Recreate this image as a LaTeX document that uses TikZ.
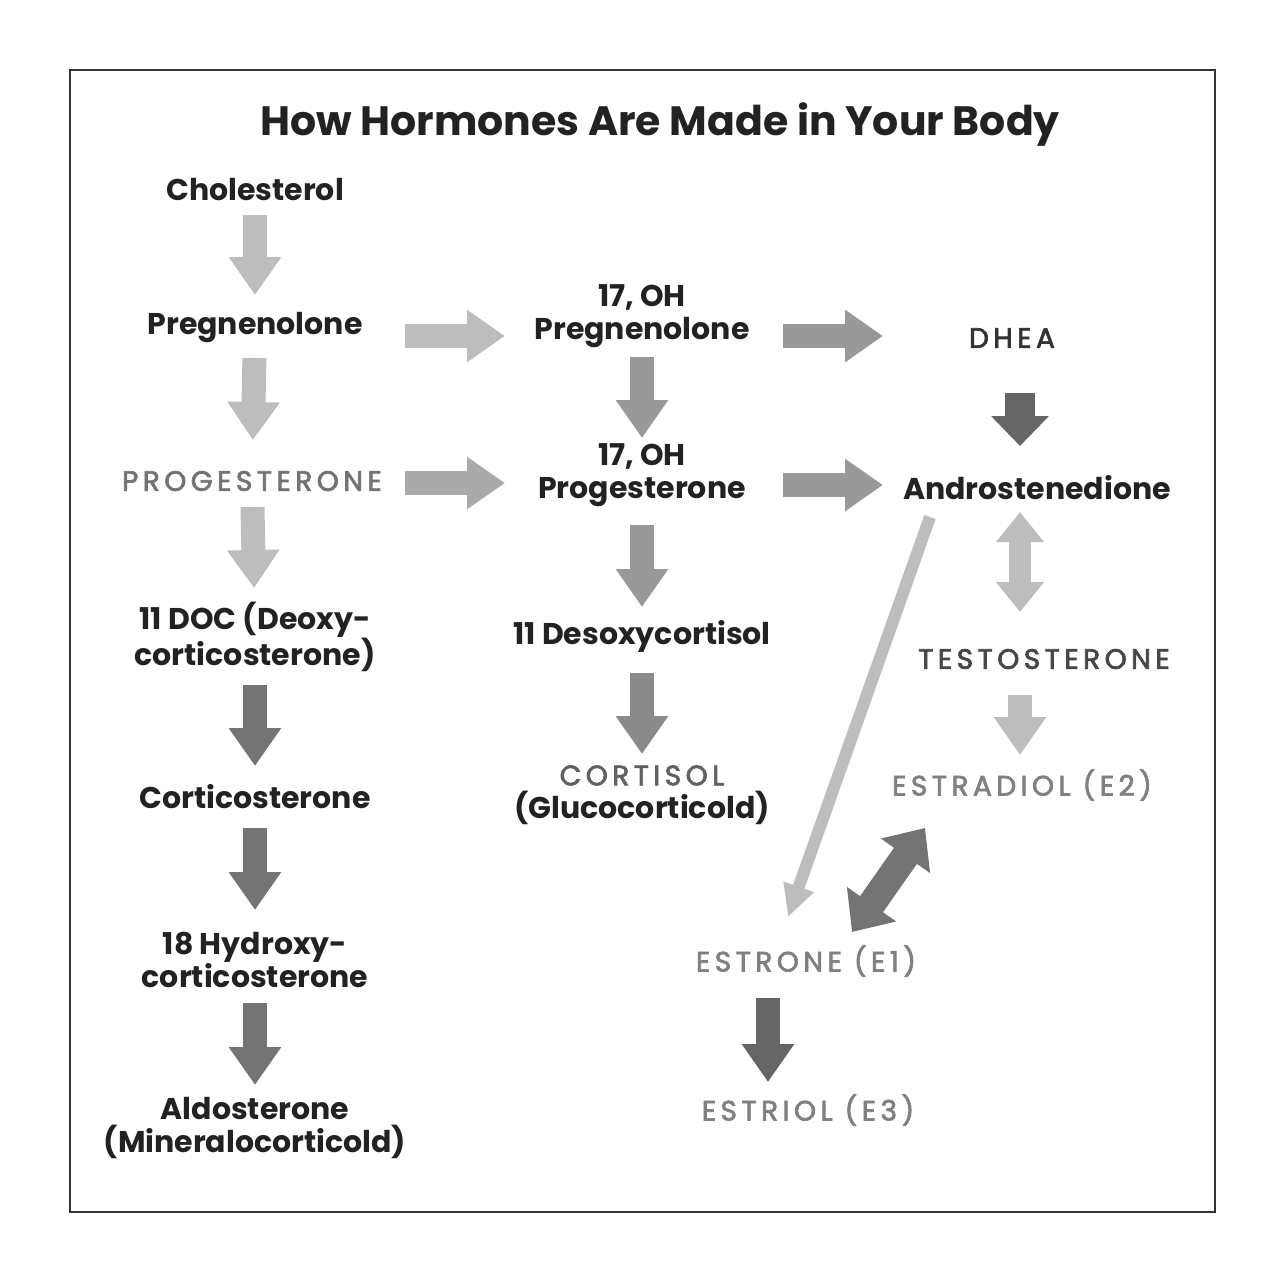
\documentclass[tikz,border=0pt]{standalone}
\usepackage{fontspec}
\setmainfont{Poppins}
\newfontfamily\capsfont[LetterSpace=16,FakeBold=2.5]{Poppins}
\usetikzlibrary{arrows.meta,calc}
\definecolor{txt}{HTML}{222222}
\definecolor{frame}{HTML}{333333}
\definecolor{aL}{HTML}{BDBDBD}
\definecolor{aM}{HTML}{999999}
\definecolor{aD}{HTML}{747474}
\definecolor{aDD}{HTML}{656565}
\begin{document}
\begin{tikzpicture}[x=1pt,y=-1pt,
  lbl/.style={font=\bfseries\fontsize{30}{33}\selectfont, text=txt, align=center, inner sep=0pt},
  caplbl/.style={font=\capsfont\fontsize{28}{33}\selectfont, align=center, inner sep=0pt},
  blk/.style={line width=24pt, -{Triangle[width=50pt,length=38pt]}},
  blkd/.style={line width=22pt, {Triangle[width=46pt,length=30pt]}-{Triangle[width=46pt,length=30pt]}},
]
\path[use as bounding box, fill=white] (0,0) rectangle (1283,1283);
\draw[frame, line width=2.5pt] (70,70) rectangle (1215,1212);
\node[font=\bfseries\fontsize{41}{44}\selectfont, text=txt, inner sep=0pt] (title) at (660,125) {How Hormones Are Made in Your Body};

% left column
\node[lbl] (chol) at (255,190) {Cholesterol};
\node[lbl] (preg) at (255,328) {Pregnenolone};
\node[caplbl, text=black!55] (prog) at (252,481) {PROGESTERONE};
\node[lbl] (doc) at (255,637) {11 DOC (Deoxy-\\corticosterone)};
\node[lbl] (cortico) at (255,797) {Corticosterone};
\node[lbl] (hydroxy) at (255,960) {18 Hydroxy-\\corticosterone};
\node[lbl] (aldo) at (255,1128) {Aldosterone\\(Mineralocorticold)};

% middle column
\node[lbl] (ohpreg) at (642,316) {17, OH\\Pregnenolone};
\node[lbl] (ohprog) at (642,475) {17, OH\\Progesterone};
\node[lbl] (deso) at (642,636) {11 Desoxycortisol};
\node[lbl] (cortisol) at (642,795) {{\capsfont\mdseries\fontsize{28}{33}\selectfont\color{black!62}CORTISOL}\\(Glucocorticold)};

% right column
\node[caplbl, text=black!80] (dhea) at (1012,338) {DHEA};
\node[lbl] (andro) at (1037,488) {Androstenedione};
\node[caplbl, text=black!72] (testo) at (1044,659) {TESTOSTERONE};
\node[caplbl, text=black!50] (estradiol) at (1022,785) {ESTRADIOL (E2)};
\node[caplbl, text=black!50] (estrone) at (806,961) {ESTRONE (E1)};
\node[caplbl, text=black!50] (estriol) at (808,1110) {ESTRIOL (E3)};

% left vertical arrows
\draw[blk, aL, shorten <=25pt, shorten >=33pt] (chol.center) -- (preg.center);
\draw[blk, aL, shorten <=30pt, shorten >=41pt] (preg.center) -- (prog.center);
\draw[blk, aL, shorten <=26pt, shorten >=49pt] (prog.center) -- (doc.center);
\draw[blk, aD, shorten <=48pt, shorten >=31pt] (doc.center) -- (cortico.center);
\draw[blk, aD, shorten <=31pt, shorten >=50pt] (cortico.center) -- (hydroxy.center);
\draw[blk, aD, shorten <=43pt, shorten >=43pt] (hydroxy.center) -- (aldo.center);

% middle vertical arrows
\draw[blk, aM, shorten <=41pt, shorten >=37pt] (ohpreg.center) -- (ohprog.center);
\draw[blk, aM, shorten <=50pt, shorten >=29pt] (ohprog.center) -- (deso.center);
\draw[blk, aM!90!black, shorten <=37pt, shorten >=41pt] (deso.center) -- (cortisol.center);

% horizontal arrows
\draw[blk, aL, shorten <=150pt, shorten >=137pt] ($(preg)+(0,8)$) -- ($(ohpreg)+(0,20)$);
\draw[blk, aM, shorten <=141pt, shorten >=129pt] ($(ohpreg)+(0,20)$) -- ($(dhea)+(0,-2)$);
\draw[blk, aL!90!black, shorten <=153pt, shorten >=137pt] ($(prog)+(0,2)$) -- ($(ohprog)+(0,8)$);
\draw[blk, aM, shorten <=141pt, shorten >=154pt] ($(ohprog)+(0,10)$) -- ($(andro)+(0,-3)$);

% right arrows
\draw[line width=30pt, -{Triangle[width=56pt,length=30pt]}, aDD, shorten <=55pt, shorten >=42pt] ($(dhea)+(8,0)$) -- ($(andro)+(-17,0)$);
\draw[blkd, aL, shorten <=24pt, shorten >=47pt] ($(andro)+(-17,0)$) -- ($(testo)+(-24,0)$);
\draw[blk, aL, shorten <=36pt, shorten >=30pt] ($(testo)+(-24,0)$) -- ($(estradiol)+(-2,0)$);
\draw[line width=12pt, -{Triangle[width=30pt,length=32pt]}, aL] ($(andro)+(-107,29)$) -- ($(estrone)+(-18,-44)$);
\draw[line width=28pt, {Triangle[width=58pt,length=34pt]}-{Triangle[width=58pt,length=34pt]}, aD] ($(estradiol)+(-97,43)$) -- ($(estrone)+(46,-29)$);
\draw[blk, aDD, shorten <=37pt, shorten >=28pt] ($(estrone)+(-38,0)$) -- ($(estriol)+(-40,0)$);
\end{tikzpicture}
\end{document}
